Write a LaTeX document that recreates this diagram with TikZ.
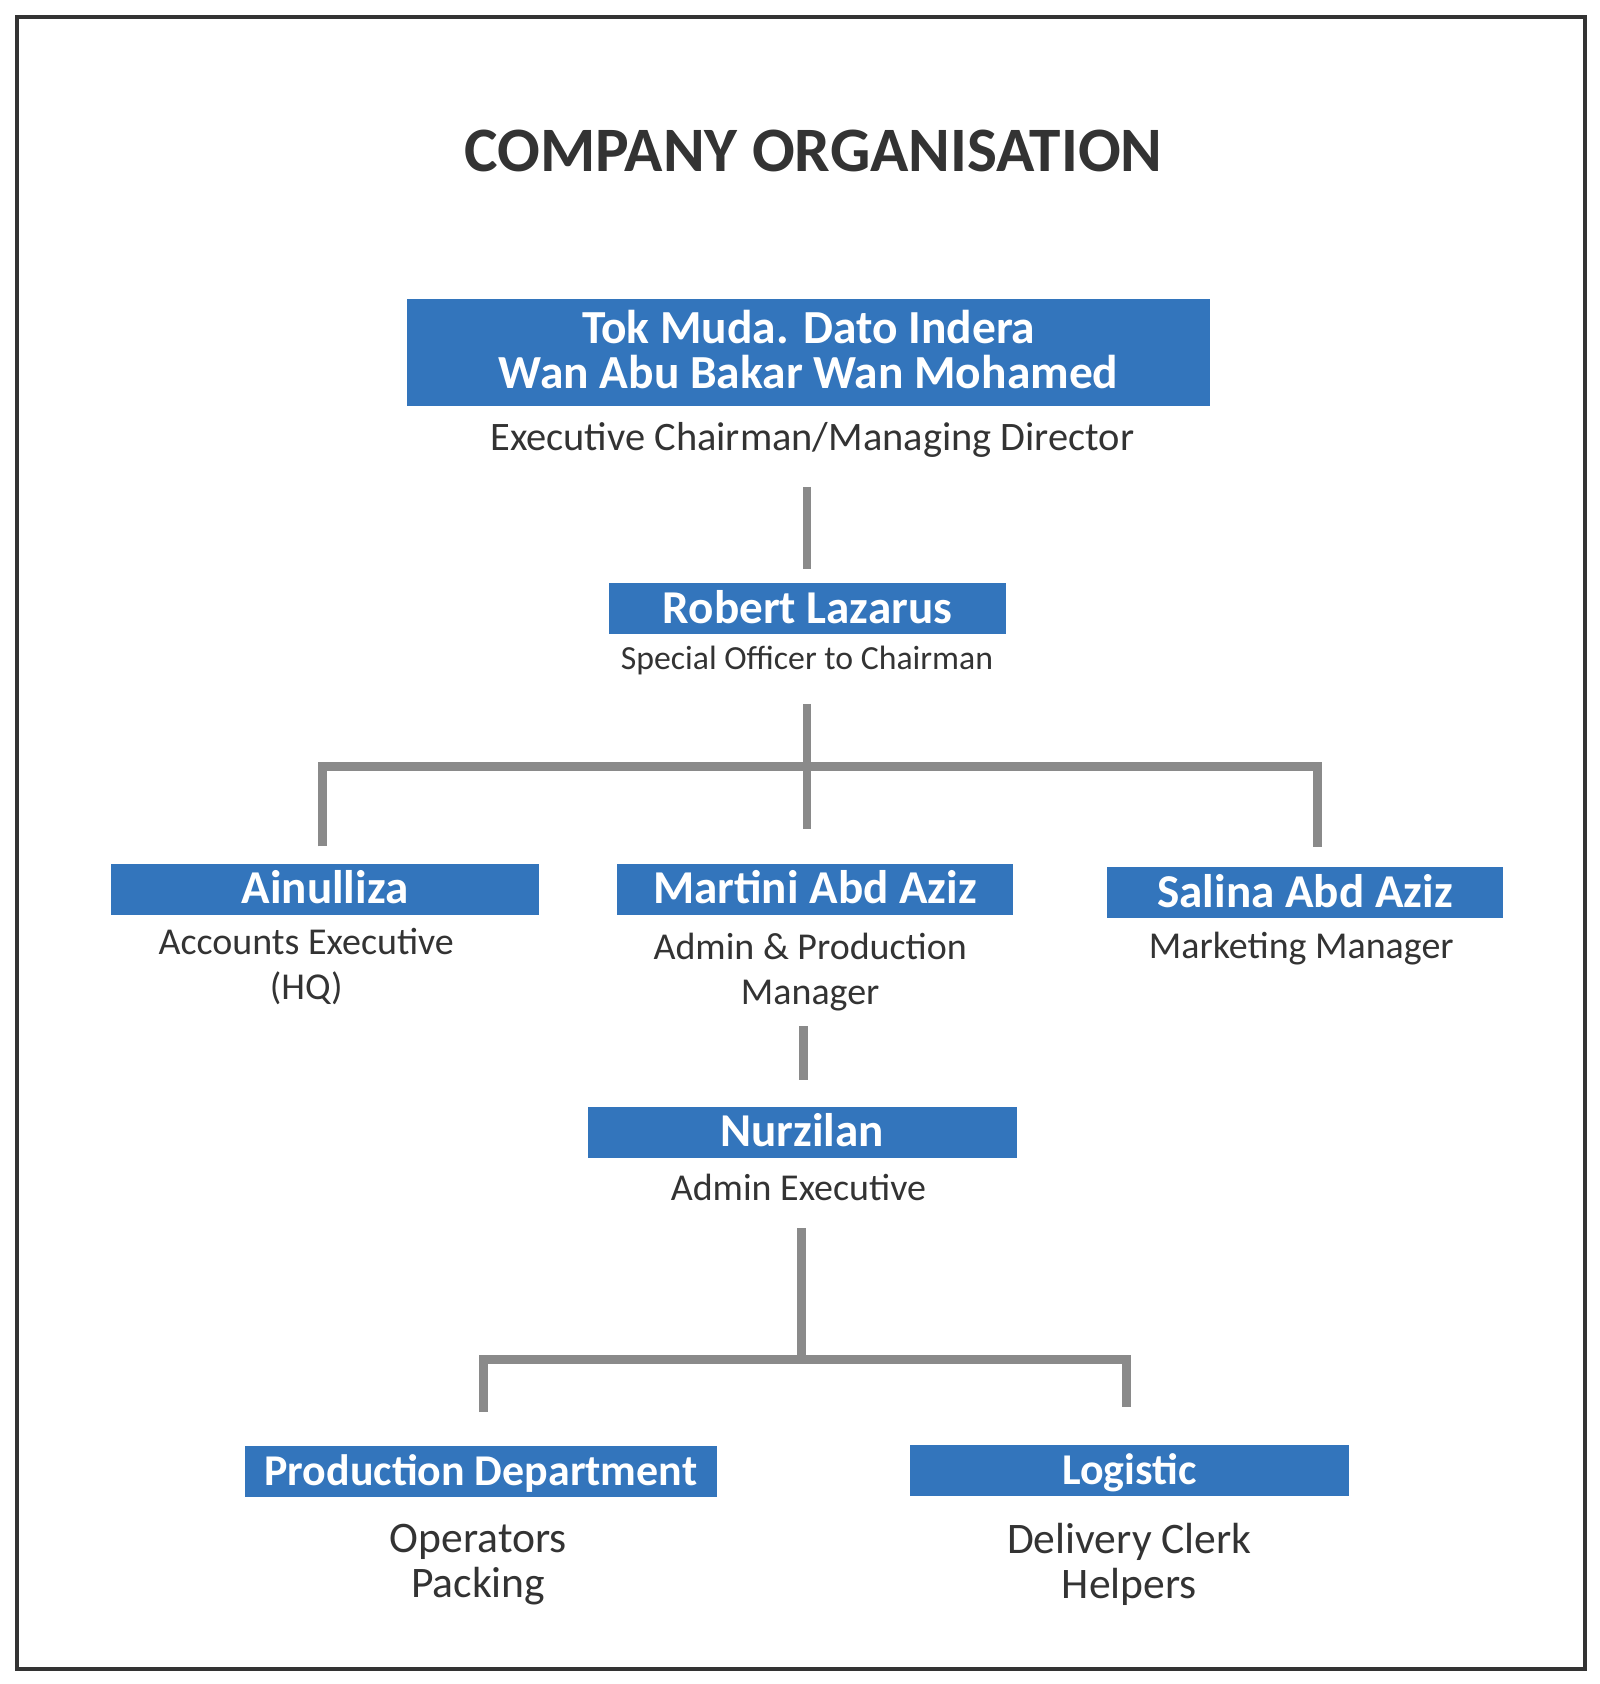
\documentclass[tikz,border=0pt]{standalone}
\usepackage{fontspec}
\setmainfont{Carlito}
\usepackage{xcolor}
\definecolor{orgblue}{HTML}{3375BC}
\definecolor{orggray}{HTML}{8A8A8A}
\definecolor{orgtext}{HTML}{333333}

\begin{document}
\begin{tikzpicture}[x=0.010745cm,y=-0.010745cm]
        \tikzset{
        org box/.style={fill=orgblue,text=white,inner sep=0,font=\bfseries\fontsize{13.4}{16}\selectfont},
        org name/.style={org box,minimum height=0.51cm,text height=1.7ex,text depth=0pt},
        org role/.style={text=orgtext,anchor=base,align=center,inner sep=0,font=\fontsize{10.8}{12.8}\selectfont},
        org link/.style={draw=orggray,line width=2.5pt,line join=miter}
        }
        \useasboundingbox (0,0) rectangle (1489,1567.2);
        \draw[orgtext,line width=1pt] (16,16) rectangle (1475,1553);
        \node[text=orgtext,anchor=base,inner sep=0,font=\bfseries\fontsize{18}{20}\selectfont] (title) at (757,160) {COMPANY ORGANISATION};

        \node[org box,minimum width=8.027cm,minimum height=1.075cm,align=center,font=\bfseries\fontsize{13.5}{12.8}\selectfont] (chair) at (752.5,328) {Tok Muda. Dato Indera\\Wan Abu Bakar Wan Mohamed\rule[-1.8pt]{0pt}{1pt}};
        \node[org role,font=\fontsize{11.5}{13}\selectfont] (chairrole) at (756,419) {Executive Chairman/Managing Director};
        \node[org name,minimum width=3.965cm] (officer) at (751.5,566.5) {Robert Lazarus};
        \node[org role,font=\fontsize{9.6}{12}\selectfont] (officerrole) at (751,623) {Special Officer to Chairman};
        \node[org name,minimum width=4.287cm] (ain) at (302.5,828) {Ainulliza};
        \node[org role] (ainrole) at (285,930) {Accounts Executive\\(HQ)};
        \node[org name,minimum width=3.965cm] (mar) at (758.5,828) {Martini Abd Aziz};
        \node[org role] (marrole) at (754,935) {Admin \& Production\\Manager};
        \node[org name,minimum width=3.965cm] (sal) at (1214.5,831) {Salina Abd Aziz};
        \node[org role] (salrole) at (1211,892) {Marketing Manager};
        \node[org name,minimum width=4.287cm] (nur) at (746.5,1053.5) {Nurzilan};
        \node[org role] (nurrole) at (743,1117) {Admin Executive};
        \node[org name,minimum width=4.717cm,font=\bfseries\fontsize{12.5}{15}\selectfont] (prod) at (447.5,1369.5) {Production Department};
        \node[org role,font=\fontsize{12.4}{12.8}\selectfont] (prodrole) at (445,1487) {Operators\\Packing};
        \node[org name,minimum width=4.384cm,font=\bfseries\fontsize{12.5}{15}\selectfont] (logi) at (1051,1368.5) {Logistic};
        \node[org role,font=\fontsize{12.4}{12.8}\selectfont] (logirole) at (1051,1488) {Delivery Clerk\\Helpers};

        \coordinate (a1) at (751,453);
        \coordinate (b1) at (751,655);
        \coordinate (bl) at (300,713);
        \coordinate (br) at (1226,713);
        \coordinate (c1) at (748,955);
        \coordinate (d1) at (746,1143);
        \coordinate (dl) at (450,1265);
        \coordinate (dr) at (1048,1265);

        \draw[org link,shorten >=0.14cm] (a1) -- (a1 |- officer.north);
        \draw[org link,shorten >=0.344cm] (b1) -- (b1 |- mar.north);
        \draw[org link,shorten <=0.172cm,shorten >=0.2cm]
        (bl |- ain.north) -- (bl) -- (br) -- (br |- sal.north);
        \draw[org link,shorten >=0.258cm] (c1) -- (c1 |- nur.north);
        \draw[org link] (d1) -- (d1 |- dl);
        \draw[org link,shorten <=0.333cm,shorten >=0.376cm]
        (dl |- prod.north) -- (dl) -- (dr) -- (dr |- logi.north);
    \end{tikzpicture}
\end{document}
